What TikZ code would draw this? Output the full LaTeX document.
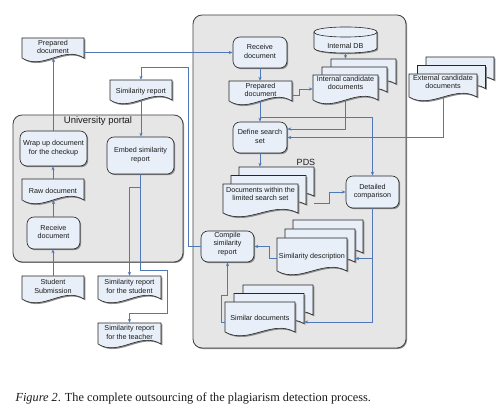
\documentclass[tikz,border=0pt]{standalone}
\usepackage{fontspec}
\setmainfont{Liberation Sans}
\newfontfamily\capfont{Liberation Serif}
\usetikzlibrary{arrows.meta,calc,fit,shadows}
\definecolor{linec}{HTML}{4F78B8}
\definecolor{nodefill}{HTML}{E9EFF8}
\definecolor{contfill}{HTML}{E6E6E6}
\definecolor{contdraw}{HTML}{404040}
\definecolor{shadc}{HTML}{8A8A8A}
\definecolor{txtc}{HTML}{1A1A1A}
\newcommand{\tx}[1]{\raisebox{-5pt}[\height][\depth]{\begin{tabular}{@{}c@{}}#1\end{tabular}}}
\tikzset{
  container/.style={draw=contdraw, fill=contfill, line width=0.8pt, rounded corners=9pt, inner sep=0pt,
    drop shadow={shadow xshift=1pt, shadow yshift=-1pt, opacity=1, fill=shadc}},
  proc/.style={draw=black!85, fill=nodefill, line width=0.6pt, rounded corners=7pt, inner sep=0pt,
    text=txtc, font=\fontsize{7.2}{8.6}\selectfont,
    drop shadow={shadow xshift=1.2pt, shadow yshift=-1.2pt, opacity=1, fill=shadc}},
  docshape/.style={draw=black!85, fill=nodefill, line width=0.6pt},
  docshadow/.style={fill=shadc},
  doctext/.style={inner sep=0pt, text=txtc, font=\fontsize{7.2}{8.6}\selectfont},
  conn/.style={draw=linec, line width=0.7pt, -{Stealth[length=4pt,width=3.2pt]}},
}
\newcommand{\docpath}[4]{(#1,#2) -- (#3,#2) -- (#3,#4) .. controls ({(#3)-((#3)-(#1))/3},{(#4)-13}) and ({(#1)+((#3)-(#1))/3},{(#4)+13}) .. (#1,#4) -- cycle}
\newcommand{\docu}[7][]{%
  \fill[docshadow, shift={(1.3,1.3)}] \docpath{#3}{#4}{#5}{#6};
  \draw[docshape] \docpath{#3}{#4}{#5}{#6};
  \node[doctext, fit={(#3,#4) (#5,#6)}, #1] (#2) {#7};}
\newcommand{\mdoc}[9][]{%
  \pgfmathsetmacro\mxa{#3+2*#7}\pgfmathsetmacro\mya{#4-2*#8}%
  \pgfmathsetmacro\mxb{#5+2*#7}\pgfmathsetmacro\myb{#6-2*#8}%
  \docu{#2-3}{\mxa}{\mya}{\mxb}{\myb}{}%
  \pgfmathsetmacro\mxa{#3+#7}\pgfmathsetmacro\mya{#4-#8}%
  \pgfmathsetmacro\mxb{#5+#7}\pgfmathsetmacro\myb{#6-#8}%
  \docu{#2-2}{\mxa}{\mya}{\mxb}{\myb}{}%
  \docu[#1]{#2}{#3}{#4}{#5}{#6}{#9}}
\begin{document}
\begin{tikzpicture}[x=1pt,y=-1pt]
\useasboundingbox (0,0) rectangle (504,409);
\fill[white] (0,0) rectangle (504,409);
% containers
\node[container, fit={(13,115) (183,262)}] (portal) {};
\node[container, fit={(193,15) (406,348)}] (pdsbox) {};
\node[text=txtc, font=\fontsize{9.5}{11}\selectfont] (portaltitle) at (98,121) {University portal};
\node[text=txtc, font=\fontsize{9}{10}\selectfont] (pdslabel) at (306,162) {PDS};
% left column
\docu{prepL}{22}{38}{84}{58}{\tx{Prepared\\document}}
\docu{simrep}{110}{80}{172}{100}{\tx{Similarity report}}
\node[proc, fit={(20,131) (87,166)}] (wrap) {\tx{Wrap up document\\for the checkup}};
\node[proc, fit={(107,137) (174,174)}] (embed) {\tx{Embed similarity\\report}};
\docu{raw}{22}{179}{84}{200}{\tx{Raw document}}
\node[proc, fit={(27,217) (80,249)}] (recvL) {\tx{Receive\\document}};
\docu{student}{22}{276}{84}{299}{\tx{Student\\Submission}}
\docu{simstud}{98}{276}{161}{299}{\tx{Similarity report\\for the student}}
\docu{simteach}{98}{323}{161}{344}{\tx{Similarity report\\for the teacher}}
% right box
\node[proc, fit={(233,37) (287,68)}] (recvR) {\tx{Receive\\document}};
\path[docshape, drop shadow={shadow xshift=1.2pt, shadow yshift=-1.2pt, opacity=1, fill=shadc}]
  (314,32) -- (314,48) .. controls (314,54.7) and (377,54.7) .. (377,48) -- (377,32)
  .. controls (377,25.3) and (314,25.3) .. (314,32) -- cycle;
\draw[docshape] (314,32) .. controls (314,38.7) and (377,38.7) .. (377,32);
\node[doctext, fit={(314,37) (377,53)}] (db) {\tx{Internal DB}};
\mdoc[yshift=3.5pt]{intcand}{313}{75}{378}{100}{9}{8}{\tx{Internal candidate\\documents}}
\docu{prepR}{229}{81}{292}{101}{\tx{Prepared\\document}}
\mdoc[yshift=2.5pt]{extcand}{409}{74}{477}{97}{8.5}{8.5}{\tx{External candidate\\documents}}
\node[proc, fit={(233,122) (287,153)}] (define) {\tx{Define search\\set}};
\mdoc[yshift=3.5pt]{docsLim}{223}{184}{298}{213}{8}{8.5}{\tx{Documents within the\\limited search set}}
\node[proc, fit={(346,176) (399,208)}] (detailed) {\tx{Detailed\\comparison}};
\mdoc{simdesc}{277}{238}{347}{271}{8}{9}{\tx{Similarity description}}
\node[proc, fit={(201,231) (254,262)}] (compile) {\tx{Compile\\similarity\\report}};
\mdoc{simdocs}{225}{302}{295}{332}{9}{8.5}{\tx{Similar documents}}
% caption
\node[anchor=base west, text=txtc, font=\capfont\fontsize{12.3}{14}\selectfont] (caption) at (12,401.5)
  {\textit{Figure 2}. The complete outsourcing of the plagiarism detection process.};
% connectors left
\draw[conn] (student.north) -- (student.north |- recvL.south);
\draw[conn] (recvL.north) -- (recvL.north |- raw.south);
\draw[conn] (raw.north) -- (raw.north |- wrap.south);
\draw[conn] (wrap.north) -- (wrap.north |- prepL.south);
\draw[conn] (prepL.east |- recvR.west) -- (recvR.west);
\draw[conn] (compile.west) -| (188,67) -| (simrep.north);
\draw[conn] (simrep.south) -- (simrep.south |- embed.north);
\coordinate (embr) at ($(embed.south)+(0,13)$);
\draw[conn] (embed.south) |- (167,270) |- ($(simteach.north)+(0,-9)$) -- (simteach.north);
\draw[conn] (embr) -| (simstud.north);
% connectors right
\draw[conn] (recvR.south) -- (recvR.south |- prepR.north);
\draw[conn] (recvR.south |- prepR.south) -- (recvR.south |- define.north);
\draw[conn] ($(prepR.east)+(0,4)$) -- ++(7,0) |- ($(intcand.west)+(0,5)$);
\draw[conn] (db.south) -- (db.south |- intcand-3.north);
\draw[conn] ($(intcand.south)+(0,3.5)$) |- ($(define.east)+(0,-8.5)$);
\draw[conn] ($(extcand.south)+(0,2.5)$) |- (define.east);
\coordinate (prb) at ($(recvR.south |- prepR.south)+(0,16)$);
\draw[conn] (prb) -| (detailed.north);
\draw[conn] (define.south) -- (define.south |- docsLim-3.north);
\draw[conn] ($(docsLim-3.south east)+(0,7)$) -- ++(15,0) |- (detailed.west);
\draw[conn] (detailed.south) |- ($(simdesc-2.east)+(0,13)$);
\draw[conn] (detailed.south) |- ($(simdocs-2.east)+(0,13.5)$);
\draw[conn] ($(simdesc.west)+(0,4)$) -- ++(-7,0) |- (compile.east);
\draw[conn] ($(simdocs.west)+(0,5)$) -- ++(-3,0) |- ($(compile.south)+(0,33)$) -- (compile.south);
\end{tikzpicture}
\end{document}
